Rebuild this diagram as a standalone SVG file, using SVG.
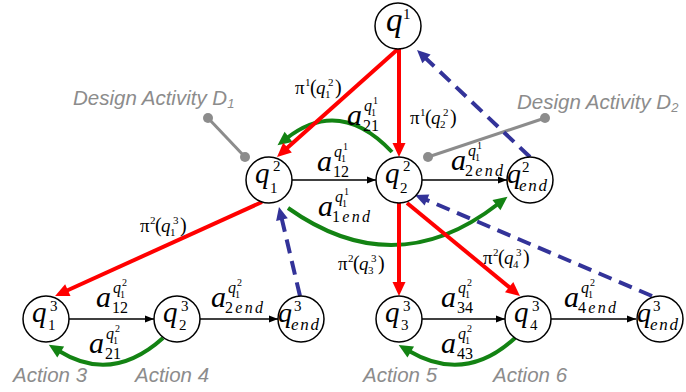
<svg xmlns="http://www.w3.org/2000/svg" width="686" height="392" viewBox="0 0 686 392">
<style>
.m{font-family:"Liberation Serif","Times New Roman",serif;fill:#000}
.i{font-style:italic}
.g{font-family:"Liberation Sans",Arial,sans-serif;font-style:italic;fill:#8c8c8c;font-size:20.5px}
.node circle{fill:#fff;stroke:#000;stroke-width:1.5}
.red{stroke:#ff0000;stroke-width:4;fill:none}
.blk{stroke:#000;stroke-width:1.3;fill:none}
.grn{stroke:#138313;stroke-width:4;fill:none}
.blu{stroke:#333399;stroke-width:4;stroke-dasharray:14 8;fill:none}
.gry{stroke:#8c8c8c;stroke-width:3}
.dot{fill:#8c8c8c}
</style>
<defs>
<marker id="ar" markerUnits="userSpaceOnUse" markerWidth="15" markerHeight="13" refX="2" refY="6.5" orient="auto" overflow="visible"><path d="M0,0 L14,6.5 L0,13 Z" fill="#ff0000"/></marker>
<marker id="ag" markerUnits="userSpaceOnUse" markerWidth="15" markerHeight="13" refX="2" refY="6.5" orient="auto" overflow="visible"><path d="M0,0 L14,6.5 L0,13 Z" fill="#138313"/></marker>
<marker id="ab" markerUnits="userSpaceOnUse" markerWidth="14" markerHeight="12" refX="2" refY="6" orient="auto" overflow="visible"><path d="M0,0 L13,6 L0,12 Z" fill="#333399"/></marker>
<marker id="ak" markerUnits="userSpaceOnUse" markerWidth="10" markerHeight="8" refX="9" refY="3.5" orient="auto" overflow="visible"><path d="M0,0 L9,3.5 L0,7 Z" fill="#000"/></marker>
</defs>

<g id="annotations">
<line class="gry" x1="208" y1="118" x2="245" y2="157"/>
<circle class="dot" cx="208" cy="118" r="5"/><circle class="dot" cx="245" cy="157" r="5"/>
<line class="gry" x1="428" y1="157" x2="545" y2="118"/>
<circle class="dot" cx="428" cy="157" r="5"/><circle class="dot" cx="545" cy="118" r="5"/>
<text class="g" x="73" y="105">Design Activity D<tspan font-size="13" dy="3">1</tspan></text>
<text class="g" x="517" y="109">Design Activity D<tspan font-size="13" dy="3">2</tspan></text>
<text class="g" x="13" y="382">Action 3</text>
<text class="g" x="135" y="382">Action 4</text>
<text class="g" x="363" y="382">Action 5</text>
<text class="g" x="493" y="382">Action 6</text>
</g>

<g id="connectors">
<path class="grn" d="M392,152 Q340,97 287,138" marker-end="url(#ag)"/>
<path class="grn" d="M288,208 Q395,284 498,204" marker-end="url(#ag)"/>
<path class="grn" d="M163,338 Q112,384 59,351" marker-end="url(#ag)"/>
<path class="grn" d="M515,338 Q465,384 409,351" marker-end="url(#ag)"/>
<line class="red" x1="398" y1="49" x2="286" y2="149" marker-end="url(#ar)"/>
<line class="red" x1="399" y1="49" x2="399" y2="145" marker-end="url(#ar)"/>
<line class="red" x1="262" y1="202" x2="66" y2="291" marker-end="url(#ar)"/>
<line class="red" x1="399" y1="203" x2="399" y2="284" marker-end="url(#ar)"/>
<line class="red" x1="407" y1="203" x2="510.7" y2="288.4" marker-end="url(#ar)"/>
<line class="blk" x1="292" y1="180" x2="376" y2="180" marker-end="url(#ak)"/>
<line class="blk" x1="422" y1="180" x2="507" y2="180" marker-end="url(#ak)"/>
<line class="blk" x1="69" y1="319" x2="154" y2="319" marker-end="url(#ak)"/>
<line class="blk" x1="200" y1="319" x2="278" y2="319" marker-end="url(#ak)"/>
<line class="blk" x1="422" y1="319" x2="505" y2="319" marker-end="url(#ak)"/>
<line class="blk" x1="551" y1="319" x2="636" y2="319" marker-end="url(#ak)"/>
<line class="blu" x1="530" y1="157" x2="425" y2="57.6" marker-end="url(#ab)"/>
<line class="blu" x1="652" y1="296" x2="425.1" y2="199.3" marker-end="url(#ab)"/>
<line class="blu" x1="300" y1="296" x2="281.5" y2="217.7" marker-end="url(#ab)"/>
</g>

<g id="edge-labels">
<g transform="translate(295,94)"><text class="m" font-size="19">π</text><text class="m" font-size="11" x="10" y="-8">1</text><text class="m" font-size="20" x="15">(</text><text class="m i" font-size="19" x="21">q</text><text class="m" font-size="11" x="30" y="4">1</text><text class="m" font-size="11" x="33" y="-8">2</text><text class="m" font-size="20" x="40">)</text></g>
<g transform="translate(410,124)"><text class="m" font-size="19">π</text><text class="m" font-size="11" x="10" y="-8">1</text><text class="m" font-size="20" x="15">(</text><text class="m i" font-size="19" x="21">q</text><text class="m" font-size="11" x="30" y="4">2</text><text class="m" font-size="11" x="33" y="-8">2</text><text class="m" font-size="20" x="40">)</text></g>
<g transform="translate(140,232)"><text class="m" font-size="19">π</text><text class="m" font-size="11" x="10" y="-8">2</text><text class="m" font-size="20" x="15">(</text><text class="m i" font-size="19" x="21">q</text><text class="m" font-size="11" x="30" y="4">1</text><text class="m" font-size="11" x="33" y="-8">3</text><text class="m" font-size="20" x="40">)</text></g>
<g transform="translate(338,270)"><text class="m" font-size="19">π</text><text class="m" font-size="11" x="10" y="-8">2</text><text class="m" font-size="20" x="15">(</text><text class="m i" font-size="19" x="21">q</text><text class="m" font-size="11" x="30" y="4">3</text><text class="m" font-size="11" x="33" y="-8">3</text><text class="m" font-size="20" x="40">)</text></g>
<g transform="translate(483,264)"><text class="m" font-size="19">π</text><text class="m" font-size="11" x="10" y="-8">2</text><text class="m" font-size="20" x="15">(</text><text class="m i" font-size="19" x="21">q</text><text class="m" font-size="11" x="30" y="4">4</text><text class="m" font-size="11" x="33" y="-8">3</text><text class="m" font-size="20" x="40">)</text></g>

<g transform="translate(347,125)"><text class="m i" font-size="30">a</text><text class="m" font-size="16" x="16" y="6">21</text><text class="m i" font-size="16" x="17" y="-14">q</text><text class="m" font-size="10" x="24" y="-9">1</text><text class="m" font-size="10" x="26" y="-21">1</text></g>
<g transform="translate(317,171)"><text class="m i" font-size="30">a</text><text class="m" font-size="16" x="16" y="6">12</text><text class="m i" font-size="16" x="17" y="-14">q</text><text class="m" font-size="10" x="24" y="-9">1</text><text class="m" font-size="10" x="26" y="-21">1</text></g>
<g transform="translate(318,216)"><text class="m i" font-size="30">a</text><text class="m" font-size="16" x="14" y="6" textLength="38" lengthAdjust="spacing">1<tspan class="i">end</tspan></text><text class="m i" font-size="16" x="17" y="-14">q</text><text class="m" font-size="10" x="24" y="-9">1</text><text class="m" font-size="10" x="26" y="-21">1</text></g>
<g transform="translate(451,170)"><text class="m i" font-size="30">a</text><text class="m" font-size="16" x="14" y="6" textLength="38" lengthAdjust="spacing">2<tspan class="i">end</tspan></text><text class="m i" font-size="16" x="17" y="-14">q</text><text class="m" font-size="10" x="24" y="-9">1</text><text class="m" font-size="10" x="26" y="-21">1</text></g>
<g transform="translate(96,307)"><text class="m i" font-size="30">a</text><text class="m" font-size="16" x="16" y="6">12</text><text class="m i" font-size="16" x="17" y="-14">q</text><text class="m" font-size="10" x="24" y="-9">1</text><text class="m" font-size="10" x="26" y="-21">2</text></g>
<g transform="translate(211,307)"><text class="m i" font-size="30">a</text><text class="m" font-size="16" x="14" y="6" textLength="38" lengthAdjust="spacing">2<tspan class="i">end</tspan></text><text class="m i" font-size="16" x="17" y="-14">q</text><text class="m" font-size="10" x="24" y="-9">1</text><text class="m" font-size="10" x="26" y="-21">2</text></g>
<g transform="translate(89,353)"><text class="m i" font-size="30">a</text><text class="m" font-size="16" x="16" y="6">21</text><text class="m i" font-size="16" x="17" y="-14">q</text><text class="m" font-size="10" x="24" y="-9">1</text><text class="m" font-size="10" x="26" y="-21">2</text></g>
<g transform="translate(441,307)"><text class="m i" font-size="30">a</text><text class="m" font-size="16" x="16" y="6">34</text><text class="m i" font-size="16" x="17" y="-14">q</text><text class="m" font-size="10" x="24" y="-9">1</text><text class="m" font-size="10" x="26" y="-21">2</text></g>
<g transform="translate(564,307)"><text class="m i" font-size="30">a</text><text class="m" font-size="16" x="14" y="6" textLength="38" lengthAdjust="spacing">4<tspan class="i">end</tspan></text><text class="m i" font-size="16" x="17" y="-14">q</text><text class="m" font-size="10" x="24" y="-9">1</text><text class="m" font-size="10" x="26" y="-21">2</text></g>
<g transform="translate(441,353)"><text class="m i" font-size="30">a</text><text class="m" font-size="16" x="16" y="6">43</text><text class="m i" font-size="16" x="17" y="-14">q</text><text class="m" font-size="10" x="24" y="-9">1</text><text class="m" font-size="10" x="26" y="-21">2</text></g>
</g>

<g id="q1" class="node"><circle cx="398" cy="26" r="23"/><text class="m i" font-size="33" x="386" y="31">q</text><text class="m" font-size="15" x="403" y="19">1</text></g>
<g id="q2_1" class="node"><circle cx="269" cy="180" r="23"/><text class="m i" font-size="29" x="255" y="183">q</text><text class="m" font-size="15" x="273" y="171">2</text><text class="m" font-size="15" x="270" y="193">1</text></g>
<g id="q2_2" class="node"><circle cx="399" cy="180" r="23"/><text class="m i" font-size="29" x="385" y="183">q</text><text class="m" font-size="15" x="403" y="171">2</text><text class="m" font-size="15" x="400" y="193">2</text></g>
<g id="q2_end" class="node"><circle cx="530" cy="180" r="23"/><text class="m i" font-size="28" x="507" y="183">q</text><text class="m" font-size="15" x="522" y="172">2</text><text class="m i" font-size="17" x="519" y="191" textLength="28" lengthAdjust="spacing">end</text></g>
<g id="q3_1" class="node"><circle cx="46" cy="319" r="23"/><text class="m i" font-size="29" x="32" y="322">q</text><text class="m" font-size="15" x="50" y="311">3</text><text class="m" font-size="15" x="48" y="330">1</text></g>
<g id="q3_2" class="node"><circle cx="177" cy="319" r="23"/><text class="m i" font-size="29" x="163" y="322">q</text><text class="m" font-size="15" x="181" y="311">3</text><text class="m" font-size="15" x="179" y="330">2</text></g>
<g id="q3_end_a" class="node"><circle cx="301" cy="319" r="23"/><text class="m i" font-size="28" x="278" y="322">q</text><text class="m" font-size="15" x="294" y="311">3</text><text class="m i" font-size="17" x="291" y="330" textLength="28" lengthAdjust="spacing">end</text></g>
<g id="q3_3" class="node"><circle cx="399" cy="319" r="23"/><text class="m i" font-size="29" x="385" y="322">q</text><text class="m" font-size="15" x="403" y="311">3</text><text class="m" font-size="15" x="401" y="330">3</text></g>
<g id="q3_4" class="node"><circle cx="528" cy="319" r="23"/><text class="m i" font-size="29" x="514" y="322">q</text><text class="m" font-size="15" x="532" y="311">3</text><text class="m" font-size="15" x="530" y="330">4</text></g>
<g id="q3_end_b" class="node"><circle cx="660" cy="319" r="23"/><text class="m i" font-size="28" x="637" y="322">q</text><text class="m" font-size="15" x="653" y="311">3</text><text class="m i" font-size="17" x="650" y="330" textLength="28" lengthAdjust="spacing">end</text></g>
</svg>
